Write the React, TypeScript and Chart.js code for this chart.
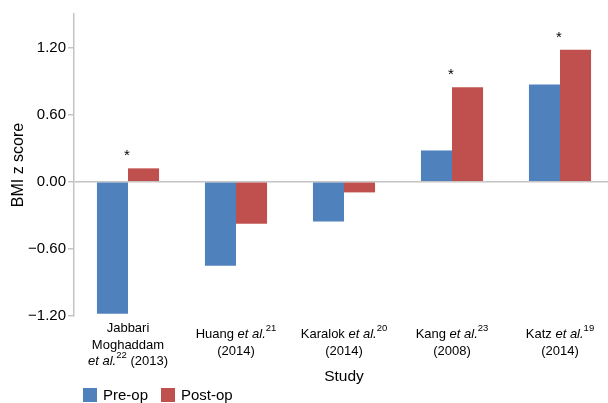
import React, { useEffect, useRef } from "react";
import { Chart, registerables } from "chart.js";

Chart.register(...registerables);

const authors = ["Jabbari Moghaddam", "Huang", "Karalok", "Kang", "Katz"];
const refs = ["22", "21", "20", "23", "19"];
const years = ["2013", "2014", "2014", "2008", "2014"];
const preOp = [-1.18, -0.75, -0.355, 0.28, 0.87];
const postOp = [0.12, -0.375, -0.095, 0.845, 1.18];
const significant = [true, false, false, true, true];
const yTicks = [-1.2, -0.6, 0, 0.6, 1.2];
const seriesNames = ["Pre-op", "Post-op"];
const colors = ["#4F81BD", "#C0504D"];

const FONT = "'Liberation Sans', Arial, Helvetica, sans-serif";

type Seg = { t: string; i?: boolean; sup?: boolean };

function buildLines(idx: number): Seg[][] {
  const name = authors[idx];
  const etal: Seg = { t: "et al.", i: true };
  const sup: Seg = { t: refs[idx], sup: true };
  if (name.includes(" ")) {
    const parts = name.split(" ");
    return [...parts.map((p) => [{ t: p }]), [etal, sup, { t: " (" + years[idx] + ")" }]];
  }
  return [[{ t: name + " " }, etal, sup], [{ t: "(" + years[idx] + ")" }]];
}

function segFont(s: Seg) {
  if (s.sup) return `9.5px ${FONT}`;
  if (s.i) return `italic 13px ${FONT}`;
  return `13px ${FONT}`;
}

const overlay = {
  id: "overlay",
  afterDraw(chart: any) {
    const ctx = chart.ctx as CanvasRenderingContext2D;
    const xs = chart.scales.x;
    const ys = chart.scales.y;
    const area = chart.chartArea;
    ctx.save();
    ctx.fillStyle = "#000";
    ctx.textBaseline = "alphabetic";
    // category labels
    authors.forEach((_, i) => {
      const cx = xs.getPixelForValue(i);
      const lines = buildLines(i);
      const n = lines.length;
      const first = 332.3 + (3 - n) * 6;
      lines.forEach((line, li) => {
        let w = 0;
        line.forEach((s) => {
          ctx.font = segFont(s);
          w += ctx.measureText(s.t).width;
        });
        let x = cx - w / 2;
        const base = first + li * 16.5;
        line.forEach((s) => {
          ctx.font = segFont(s);
          ctx.textAlign = "left";
          ctx.fillText(s.t, x, s.sup ? base - 7.5 : base);
          x += ctx.measureText(s.t).width;
        });
      });
    });
    // x title
    ctx.font = `15.5px ${FONT}`;
    ctx.textAlign = "center";
    ctx.fillText("Study", (area.left + area.right) / 2, 381);
    // significance asterisks
    ctx.font = `15px ${FONT}`;
    significant.forEach((sig, i) => {
      if (!sig) return;
      const top = Math.max(preOp[i], postOp[i]);
      const px = xs.getPixelForValue(i);
      ctx.fillText("*", px - 1, ys.getPixelForValue(top) - 8);
    });
    // legend
    const legendX = [83, 161];
    seriesNames.forEach((name, k) => {
      ctx.fillStyle = colors[k];
      ctx.fillRect(legendX[k], 388, 14, 14);
      ctx.fillStyle = "#000";
      ctx.font = `15px ${FONT}`;
      ctx.textAlign = "left";
      ctx.fillText(name, legendX[k] + 20, 399.5);
    });
    ctx.restore();
  },
};

export default function App() {
  const ref = useRef<HTMLCanvasElement>(null);
  useEffect(() => {
    document.body.style.margin = "0";
    const chart = new Chart(ref.current!, {
      type: "bar",
      data: {
        labels: authors,
        datasets: [
          { label: seriesNames[0], data: preOp, backgroundColor: colors[0], borderWidth: 0 },
          { label: seriesNames[1], data: postOp, backgroundColor: colors[1], borderWidth: 0 },
        ],
      },
      options: {
        animation: false,
        responsive: false,
        devicePixelRatio: 1,
        layout: { padding: { top: 14, bottom: 87, left: 0, right: 0 } },
        datasets: { bar: { categoryPercentage: 0.575, barPercentage: 1 } },
        plugins: { legend: { display: false }, tooltip: { enabled: false } },
        scales: {
          x: { display: false, offset: true },
          y: {
            min: -1.2,
            max: 1.5,
            afterFit: (s: any) => {
              s.width = 74;
            },
            afterBuildTicks: (s: any) => {
              s.ticks = yTicks.map((v) => ({ value: v }));
            },
            ticks: {
              color: "#000",
              font: { family: FONT, size: 15 },
              padding: 2,
              callback: (v: any) => {
                const n = Number(v);
                const str = Math.abs(n).toFixed(2);
                return n < 0 ? "\u2212" + str : str;
              },
            },
            grid: {
              color: (c: any) => (c.tick && c.tick.value === 0 ? "#c4c4c4" : "rgba(0,0,0,0)"),
              tickColor: "#c4c4c4",
              tickLength: 6,
              lineWidth: 1.5,
            },
            border: { display: true, color: "#c4c4c4", width: 1.5 },
            title: {
              display: true,
              text: "BMI z score",
              color: "#000",
              font: { family: FONT, size: 16 },
              padding: { top: 9, bottom: 0 },
            },
          },
        },
      },
      plugins: [overlay],
    });
    return () => chart.destroy();
  }, []);
  return (
    <div style={{ width: 608, height: 403, overflow: "hidden", position: "relative" }}>
      <canvas ref={ref} width={614} height={403} style={{ display: "block" }} />
    </div>
  );
}
